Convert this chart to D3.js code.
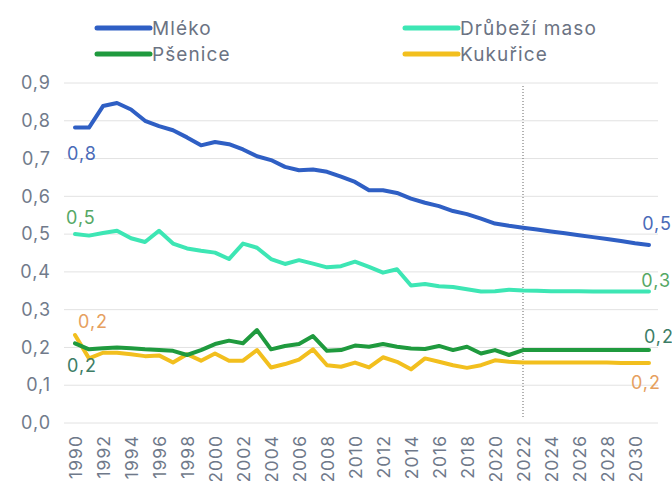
<!DOCTYPE html>
<html>
<head>
<meta charset="utf-8">
<script src="https://cdn.jsdelivr.net/npm/d3@7"></script>
<style>
  body { margin: 0; background: #fff; }
  text { font-family: Inter, "Noto Sans", sans-serif; }
</style>
</head>
<body>
<div id="chart"></div>
<script>
// years 1990..2031 (2022 = last actual year, rest projection)
const years = d3.range(1990, 2032);
const yTicks = [0, 0.1, 0.2, 0.3, 0.4, 0.5, 0.6, 0.7, 0.8, 0.9];
const xTicks = d3.range(1990, 2031, 2);

const mleko = [0.782, 0.782, 0.839, 0.847, 0.830, 0.800, 0.786, 0.775, 0.756, 0.735,
  0.744, 0.738, 0.724, 0.706, 0.696, 0.678, 0.669, 0.671, 0.665, 0.652,
  0.638, 0.616, 0.616, 0.609, 0.594, 0.583, 0.574, 0.561, 0.553, 0.541,
  0.528, 0.522, 0.517, 0.512, 0.507, 0.502, 0.497, 0.492, 0.487, 0.482,
  0.476, 0.471];
const drubez = [0.500, 0.496, 0.503, 0.509, 0.489, 0.479, 0.509, 0.475, 0.462, 0.456,
  0.451, 0.434, 0.475, 0.464, 0.434, 0.421, 0.431, 0.422, 0.412, 0.415,
  0.427, 0.413, 0.398, 0.407, 0.364, 0.368, 0.362, 0.360, 0.354, 0.348,
  0.349, 0.353, 0.351, 0.350, 0.349, 0.349, 0.349, 0.348, 0.348, 0.348,
  0.348, 0.348];
const psenice = [0.211, 0.195, 0.198, 0.200, 0.198, 0.195, 0.193, 0.191, 0.180, 0.193,
  0.209, 0.218, 0.211, 0.246, 0.195, 0.204, 0.209, 0.230, 0.191, 0.193,
  0.205, 0.202, 0.209, 0.202, 0.197, 0.196, 0.204, 0.193, 0.202, 0.184,
  0.193, 0.180, 0.193, 0.193, 0.193, 0.193, 0.193, 0.193, 0.193, 0.193,
  0.193, 0.193];
const kukurice = [0.233, 0.171, 0.186, 0.186, 0.182, 0.177, 0.179, 0.160, 0.182, 0.165,
  0.184, 0.165, 0.165, 0.193, 0.147, 0.156, 0.168, 0.195, 0.153, 0.149,
  0.160, 0.147, 0.174, 0.162, 0.142, 0.171, 0.162, 0.153, 0.146, 0.153,
  0.166, 0.162, 0.160, 0.160, 0.160, 0.160, 0.160, 0.160, 0.160, 0.159,
  0.159, 0.159];

const seriesNames = ["Mléko", "Drůbeží maso", "Pšenice", "Kukuřice"];
const seriesColors = ["#2f5fc4", "#3de6b4", "#1f9a3e", "#f2bf1e"];
const labelColors = ["#4a6bb8", "#55a865", "#3d7d66", "#e6a05e"];

const width = 672, height = 481;
const svg = d3.select("#chart").append("svg")
  .attr("width", width).attr("height", height);

const x = d3.scaleLinear().domain([1990, 2031]).range([75, 649]);
const y = d3.scaleLinear().domain([0, 0.9]).range([423, 83]);
const fmt = d => d3.format(".1f")(d).replace(".", ",");

// grid
svg.append("g").selectAll("line").data(yTicks).enter().append("line")
  .attr("x1", 64).attr("x2", 658)
  .attr("y1", d => y(d)).attr("y2", d => y(d))
  .attr("stroke", "#e2e2e2").attr("stroke-width", 1);

// y axis labels
const yAxis = svg.append("g")
  .attr("transform", "translate(51,0)")
  .call(d3.axisLeft(y).tickValues(yTicks).tickFormat(fmt).tickSize(0).tickPadding(0));
yAxis.select(".domain").remove();
yAxis.selectAll("text").attr("font-size", 18).attr("fill", "#717b8b")
  .attr("letter-spacing", 1)
  .attr("font-family", "Inter, 'Noto Sans', sans-serif");

// x axis labels (rotated)
const xAxis = svg.append("g")
  .attr("transform", "translate(0,430)")
  .call(d3.axisBottom(x).tickValues(xTicks).tickFormat(d3.format("d")).tickSize(0).tickPadding(0));
xAxis.select(".domain").remove();
xAxis.selectAll("text")
  .attr("font-size", 17.5).attr("fill", "#6f798a")
  .attr("letter-spacing", 1)
  .attr("font-family", "Inter, 'Noto Sans', sans-serif")
  .attr("transform", "rotate(-90)")
  .attr("text-anchor", "end")
  .attr("x", -5).attr("y", 0).attr("dy", "0.35em");

// dotted line at 2022
svg.append("line")
  .attr("x1", x(2022)).attr("x2", x(2022))
  .attr("y1", 86).attr("y2", 418)
  .attr("stroke", "#666").attr("stroke-width", 1)
  .attr("stroke-dasharray", "1,2");

// lines
const allSeries = [mleko, drubez, psenice, kukurice];
const line = d3.line().x((d, i) => x(years[i])).y(d => y(d));
// draw order: maso, mleko, kukurice, psenice
[1, 0, 3, 2].forEach(k => {
  svg.append("path").datum(allSeries[k])
    .attr("d", line)
    .attr("fill", "none")
    .attr("stroke", seriesColors[k])
    .attr("stroke-width", 4)
    .attr("stroke-linejoin", "round")
    .attr("stroke-linecap", "round");
});

// data labels: first and last value
const firstOff = [[-8, 26], [-9, -16], [-8, 22], [3, -13]];
const lastOff = [[23, -21], [22, -11], [25, -13], [12, 20]];
allSeries.forEach((s, k) => {
  const n = s.length - 1;
  svg.append("text")
    .attr("x", x(years[0]) + firstOff[k][0])
    .attr("y", y(s[0]) + firstOff[k][1])
    .attr("dy", "0.35em")
    .attr("font-size", 18).attr("letter-spacing", 1).attr("fill", labelColors[k])
    .text(fmt(s[0]));
  svg.append("text")
    .attr("x", x(years[n]) + lastOff[k][0])
    .attr("y", y(s[n]) + lastOff[k][1])
    .attr("dy", "0.35em")
    .attr("text-anchor", "end")
    .attr("font-size", 18).attr("letter-spacing", 1).attr("fill", labelColors[k])
    .text(fmt(s[n]));
});

// legend
const legendPos = [[97, 28], [405, 28], [97, 54], [405, 54]];
seriesNames.forEach((name, k) => {
  const g = svg.append("g").attr("transform", `translate(${legendPos[k][0]},${legendPos[k][1]})`);
  g.append("line").attr("x1", 0).attr("x2", 53).attr("y1", 0).attr("y2", 0)
    .attr("stroke", seriesColors[k]).attr("stroke-width", 5).attr("stroke-linecap", "round");
  g.append("text").attr("x", 55).attr("y", 0).attr("dy", "0.35em")
    .attr("font-size", 19).attr("letter-spacing", 1.1).attr("fill", "#6b7383").text(name);
});
</script>
</body>
</html>
